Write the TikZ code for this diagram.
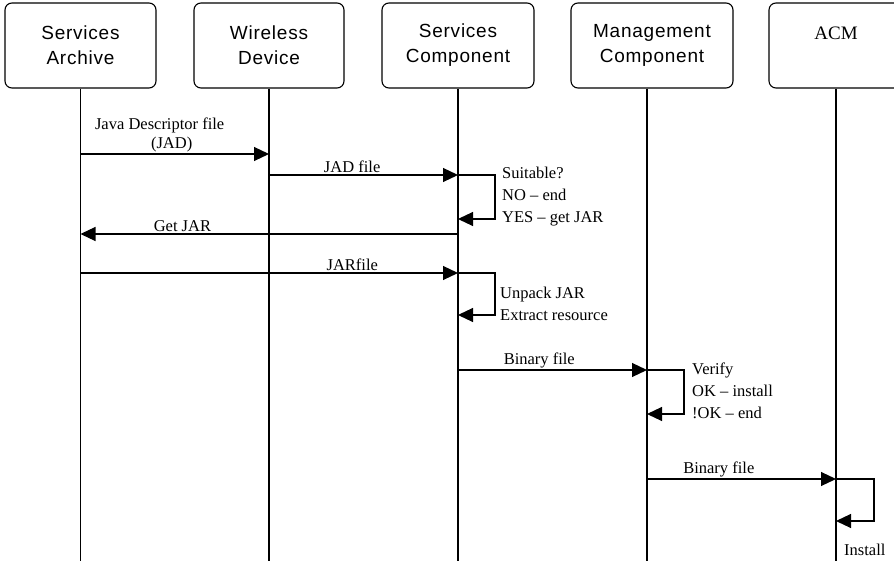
\documentclass[tikz,border=0pt]{standalone}
\usepackage{fontspec}
\setmainfont{Liberation Serif}
\newfontfamily\headfont[LetterSpace=4]{Liberation Sans}
\usetikzlibrary{arrows.meta}

\begin{document}
\begin{tikzpicture}[x=1pt,y=-1pt,
  box/.style={draw,rounded corners=7pt,line width=1.1pt,minimum height=85pt,align=center,font=\headfont\fontsize{19}{25}\selectfont},
  life/.style={line width=1.1pt},
  msg/.style={line width=1.1pt,-{Triangle[length=15pt,width=14pt]}},
  lbl/.style={font=\fontsize{16.5}{19}\selectfont,inner sep=1.5pt,align=center},
  note/.style={font=\fontsize{16.5}{22}\selectfont,align=left,inner sep=0pt,anchor=west}]
\useasboundingbox (0,0) rectangle (894,561);
% header boxes
\node[box,minimum width=151pt](sa) at (80.5,45.5){Services\\Archive};
\node[box,minimum width=150pt](wd) at (269,45.5){Wireless\\Device};
\node[box,minimum width=152pt](sc) at (458,45.5){Services\\Component};
\node[box,minimum width=162pt](mc) at (652,45.5){Management\\Component};
\node[box,minimum width=134pt,font=\fontsize{19}{25}\selectfont](acm) at (836,45.5){ACM\\~};
% lifelines
\coordinate (l-sa) at (sa.south);
\coordinate (l-wd) at (wd.south);
\coordinate (l-sc) at (sc.south);
\coordinate (l-mc) at ([xshift=-5pt]mc.south);
\coordinate (l-acm) at (acm.south);
\coordinate (bottom) at (0,562);
\draw[life] (l-sa) -- (l-sa |- bottom);
\draw[life] (l-wd) -- (l-wd |- bottom);
\draw[life] (l-sc) -- (l-sc |- bottom);
\draw[life] (l-mc) -- (l-mc |- bottom);
\draw[life] (l-acm) -- (l-acm |- bottom);
% message levels
\coordinate (m1) at (0,154);
\coordinate (m2) at (0,175);
\coordinate (r1) at (0,219);
\coordinate (m3) at (0,234);
\coordinate (m4) at (0,273);
\coordinate (r2) at (0,315);
\coordinate (m5) at (0,370);
\coordinate (r3) at (0,414);
\coordinate (m6) at (0,479);
\coordinate (r4) at (0,521);
% messages
\draw[msg] (l-sa |- m1) -- node[lbl,above,pos=.42](t1){Java Descriptor file\\\hspace*{24pt}(JAD)} (l-wd |- m1);
\draw[msg] (l-wd |- m2) -- node[lbl,above,pos=.44](t2){JAD file} (l-sc |- m2);
\draw[msg] (l-sc |- m2) -- ++(37,0) |- (l-sc |- r1);
\node[note](n1) at (502,197){Suitable?\\NO – end\\YES – get JAR};
\draw[msg] (l-sc |- m3) -- node[lbl,above,pos=.73](t3){Get JAR} (l-sa |- m3);
\draw[msg] (l-sa |- m4) -- node[lbl,above,pos=.72](t4){JARfile} (l-sc |- m4);
\draw[msg] (l-sc |- m4) -- ++(37,0) |- (l-sc |- r2);
\node[note](n2) at (500,304){Unpack JAR\\Extract resource};
\draw[msg] (l-sc |- m5) -- node[lbl,above,pos=.43](t5){Binary file} (l-mc |- m5);
\draw[msg] (l-mc |- m5) -- ++(37,0) |- (l-mc |- r3);
\node[note](n3) at (692,391){Verify\\OK – install\\!OK – end};
\draw[msg] (l-mc |- m6) -- node[lbl,above,pos=.38](t6){Binary file} (l-acm |- m6);
\draw[msg] (l-acm |- m6) -- ++(38,0) |- (l-acm |- r4);
\node[note](n4) at (844,550){Install};
\end{tikzpicture}
\end{document}
